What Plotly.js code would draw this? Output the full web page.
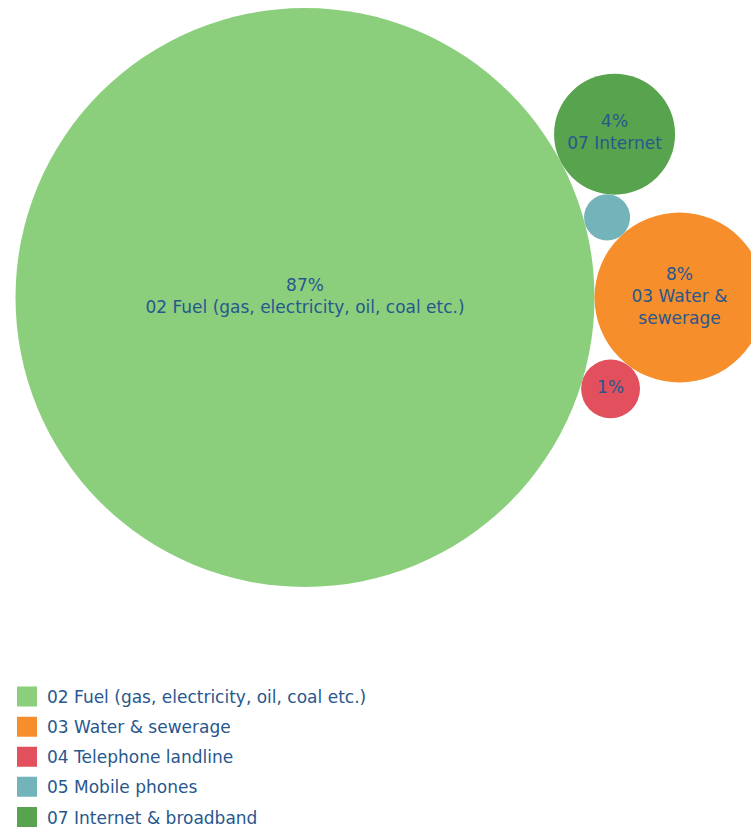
<!DOCTYPE html>
<html>
<head>
<meta charset="utf-8">
<script src="https://cdn.plot.ly/plotly-3.0.1.min.js"></script>
<style>html,body{margin:0;padding:0;background:#fff;}</style>
</head>
<body>
<div id="chart" style="width:751px;height:830px;"></div>
<script>
// ---- data ----
var categories = [
  '02 Fuel (gas, electricity, oil, coal etc.)',
  '03 Water & sewerage',
  '04 Telephone landline',
  '05 Mobile phones',
  '07 Internet & broadband'
];
var shares = [87.0, 7.5, 0.9, 0.55, 3.8];
var bubbleLabels = [
  '02 Fuel (gas, electricity, oil, coal etc.)',
  '03 Water &<br>sewerage',
  '',
  '',
  '07 Internet'
];
var colors = ['#8bcf7d', '#f68e2b', '#e1505c', '#72b4b9', '#58a34d'];

// ---- layout constants ----
var W = 751, H = 830;
var MAX_RADIUS = 289.5;          // px radius of the largest bubble
var ANCHOR_X = 305, ANCHOR_Y = 297.5; // page position of the largest bubble
var MIN_LABEL_R = 26, MIN_NAME_R = 40;
var TEXT_COLOR = '#28578e';
var FONT = 'DejaVu Sans, Arial, sans-serif';

// ---- circle packing (port of d3-hierarchy packSiblings front-chain) ----
function place(b, a, c) {
  var dx = b.x - a.x, x, a2, dy = b.y - a.y, y, b2, d2 = dx * dx + dy * dy;
  if (d2) {
    a2 = a.r + c.r; a2 *= a2;
    b2 = b.r + c.r; b2 *= b2;
    if (a2 > b2) {
      x = (d2 + b2 - a2) / (2 * d2);
      y = Math.sqrt(Math.max(0, b2 / d2 - x * x));
      c.x = b.x - x * dx - y * dy;
      c.y = b.y - x * dy + y * dx;
    } else {
      x = (d2 + a2 - b2) / (2 * d2);
      y = Math.sqrt(Math.max(0, a2 / d2 - x * x));
      c.x = a.x + x * dx - y * dy;
      c.y = a.y + x * dy + y * dx;
    }
  } else { c.x = a.x + c.r; c.y = a.y; }
}
function intersects(a, b) {
  var dr = a.r + b.r - 1e-6, dx = b.x - a.x, dy = b.y - a.y;
  return dr > 0 && dr * dr > dx * dx + dy * dy;
}
function score(node) {
  var a = node._, b = node.next._, ab = a.r + b.r,
      dx = (a.x * b.r + b.x * a.r) / ab, dy = (a.y * b.r + b.y * a.r) / ab;
  return dx * dx + dy * dy;
}
function Node(c) { this._ = c; this.next = null; this.previous = null; }
function packSiblings(circles) {
  var n = circles.length, a, b, c, aa, ca, i, j, k, sj, sk;
  a = circles[0]; a.x = 0; a.y = 0;
  if (n < 2) return;
  b = circles[1]; a.x = -b.r; b.x = a.r; b.y = 0;
  if (n < 3) return;
  place(b, a, c = circles[2]);
  a = new Node(a); b = new Node(b); c = new Node(c);
  a.next = c.previous = b; b.next = a.previous = c; c.next = b.previous = a;
  pack: for (i = 3; i < n; ++i) {
    place(a._, b._, c = circles[i]); c = new Node(c);
    j = b.next; k = a.previous; sj = b._.r; sk = a._.r;
    do {
      if (sj <= sk) {
        if (intersects(j._, c._)) { b = j; a.next = b; b.previous = a; --i; continue pack; }
        sj += j._.r; j = j.next;
      } else {
        if (intersects(k._, c._)) { a = k; a.next = b; b.previous = a; --i; continue pack; }
        sk += k._.r; k = k.previous;
      }
    } while (j !== k.next);
    c.previous = a; c.next = b; a.next = b.previous = b = c;
    aa = score(a);
    while ((c = c.next) !== b) { if ((ca = score(c)) < aa) { a = c; aa = ca; } }
    b = a.next;
  }
}

var maxShare = Math.max.apply(null, shares);
var circles = shares.map(function (v) { return { r: MAX_RADIUS * Math.sqrt(v / maxShare) }; });
packSiblings(circles);

var total = shares.reduce(function (s, v) { return s + v; }, 0);
var xs = circles.map(function (c) { return c.x; });
var ys = circles.map(function (c) { return c.y; });
var diam = circles.map(function (c) { return 2 * c.r; });
var texts = shares.map(function (v, i) {
  var r = circles[i].r;
  if (r < MIN_LABEL_R) return '';
  var pct = Math.round(v / total * 100) + '%';
  if (r < MIN_NAME_R || !bubbleLabels[i]) return pct;
  return pct + '<br>' + bubbleLabels[i];
});

var big = circles[shares.indexOf(maxShare)];
var x0 = big.x - ANCHOR_X, y0 = big.y - ANCHOR_Y;

var traces = [{
  type: 'scatter', mode: 'markers+text',
  x: xs, y: ys, text: texts,
  textposition: 'middle center',
  textfont: { family: FONT, size: 17, color: TEXT_COLOR },
  marker: { size: diam, sizemode: 'diameter', color: colors, opacity: 1, line: { width: 0 } },
  hoverinfo: 'skip', showlegend: false, cliponaxis: true
}];
categories.forEach(function (name, i) {
  traces.push({
    type: 'scatter', mode: 'markers', x: [null], y: [null], name: name,
    legendgroup: 'g' + i,
    marker: { symbol: 'square', size: 16, color: colors[i], line: { width: 4, color: colors[i] } },
    hoverinfo: 'skip'
  });
});

var layout = {
  width: W, height: H,
  margin: { l: 0, r: 0, t: 0, b: 0, pad: 0, autoexpand: false },
  paper_bgcolor: '#ffffff', plot_bgcolor: '#ffffff',
  xaxis: { range: [x0, x0 + W], visible: false, fixedrange: true },
  yaxis: { range: [y0 + H, y0], visible: false, fixedrange: true },
  showlegend: true,
  legend: {
    x: 7 / W, xanchor: 'left',
    y: -5 / H, yanchor: 'bottom',
    orientation: 'v',
    traceorder: 'grouped',
    tracegroupgap: 5,
    bgcolor: 'rgba(0,0,0,0)',
    font: { family: FONT, size: 17, color: TEXT_COLOR }
  },
  hovermode: false
};

Plotly.newPlot('chart', traces, layout, { displayModeBar: false, staticPlot: true });
</script>
</body>
</html>
